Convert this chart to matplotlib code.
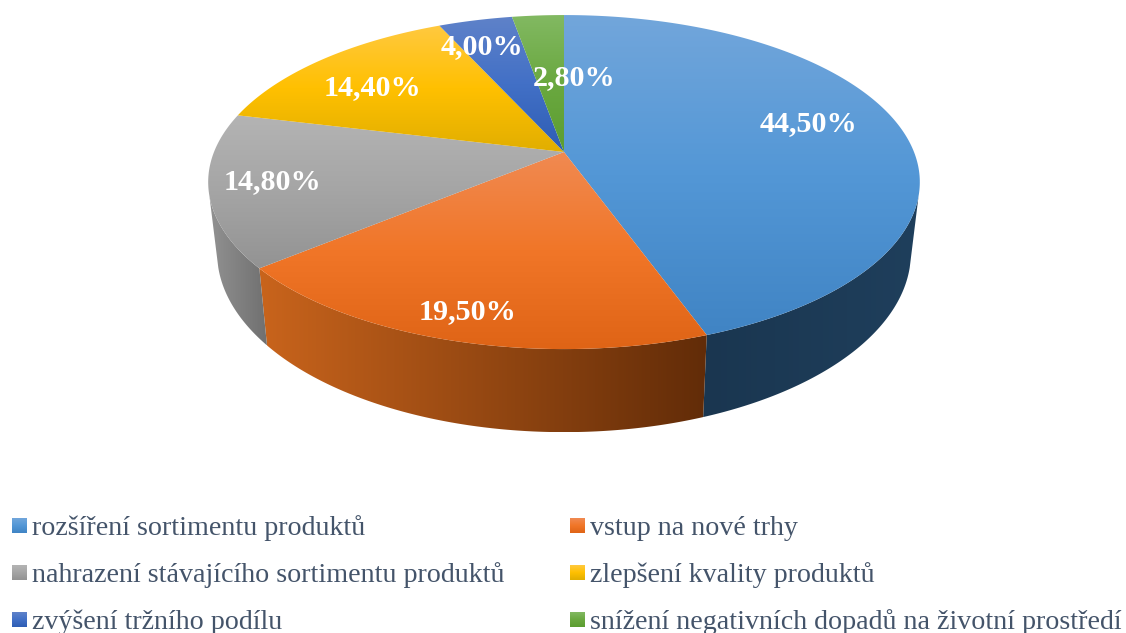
import numpy as np
import matplotlib
matplotlib.use('Agg')
import matplotlib.pyplot as plt
from matplotlib.colors import LinearSegmentedColormap
from matplotlib.patches import Polygon

# data
categories = [
    'rozšíření sortimentu produktů',
    'vstup na nové trhy',
    'nahrazení stávajícího sortimentu produktů',
    'zlepšení kvality produktů',
    'zvýšení tržního podílu',
    'snížení negativních dopadů na životní prostředí',
]
values = [44.5, 19.5, 14.8, 14.4, 4.0, 2.8]
value_labels = ['44,50%', '19,50%', '14,80%', '14,40%', '4,00%', '2,80%']

# gradient colours, top face (top -> bottom) and side (left -> right)
top_colors = [
    ('#72a6db', '#5397d6', '#4084c4'),
    ('#f08a52', '#f17628', '#df6416'),
    ('#b4b4b4', '#a5a5a5', '#939393'),
    ('#ffc940', '#ffc000', '#e1ae00'),
    ('#5f82c9', '#4270c6', '#2e5db4'),
    ('#82b962', '#6aa840', '#5c9d30'),
]
side_colors = [
    ('#1a3650', '#1f3f5c'),
    ('#c9641c', '#622c08'),
    ('#929292', '#707070'),
    ('#929292', '#707070'),
    ('#2a4a80', '#2a4a80'),
    ('#4a7a2a', '#4a7a2a'),
]

# label centres in pixels
label_pos = [(808, 124), (468, 312), (272, 182), (372, 88), (482, 47), (574, 78)]

W, H = 1126, 633
cx, cy = 564, 152
# where the rim starts to show, clockwise from the top of the pie
right_edge = np.radians(105)
left_edge = np.radians(255)


def project(angle):
    # angle clockwise from the top of the pie, with perspective
    u = np.sin(angle)
    v = np.cos(angle)
    w = 1 + 0.18 * v
    return cx + 350 * u / w, cy - 161.6 * v / w


def project_bottom(angle):
    x, y = project(angle)
    return cx + 0.975 * (x - cx), y + 77 + 0.075 * (y - 268)


def gradient_fill(ax, xy, colors, horizontal=False, zorder=1):
    cmap = LinearSegmentedColormap.from_list('g', list(colors))
    x0, y0 = xy[:, 0].min(), xy[:, 1].min()
    x1, y1 = xy[:, 0].max(), xy[:, 1].max()
    grad = np.linspace(0, 1, 256)
    grad = grad.reshape(1, -1) if horizontal else grad.reshape(-1, 1)
    im = ax.imshow(grad, cmap=cmap, extent=(x0, x1, y1, y0), aspect='auto',
                   interpolation='bilinear', zorder=zorder)
    poly = Polygon(xy, closed=True, transform=ax.transData)
    im.set_clip_path(poly)


plt.rcParams['font.family'] = ['Liberation Serif']

fig = plt.figure(figsize=(W / 100, H / 100), dpi=100)
ax = fig.add_axes([0, 0, 1, 1])

edges = np.cumsum([0] + values) / sum(values) * 2 * np.pi

# sides first, only the front part of the rim is visible
for i in range(len(values)):
    start = max(edges[i], right_edge)
    end = min(edges[i + 1], left_edge)
    if end <= start:
        continue
    a = np.linspace(start, end, 200)
    tx, ty = project(a)
    bx, by = project_bottom(a)
    xy = np.column_stack([np.r_[tx, bx[::-1]], np.r_[ty, by[::-1]]])
    gradient_fill(ax, xy, side_colors[i], horizontal=True, zorder=1)

for i in range(len(values)):
    a = np.linspace(edges[i], edges[i + 1], 200)
    tx, ty = project(a)
    xy = np.column_stack([np.r_[cx, tx], np.r_[cy, ty]])
    gradient_fill(ax, xy, top_colors[i], zorder=2)

for label, (x, y) in zip(value_labels, label_pos):
    ax.text(x, y, label, color='white', fontsize=21.7, fontweight='bold',
            ha='center', va='center', zorder=3)

# legend
legend_x = [12, 570]
legend_y = [518, 565, 612]
for i, name in enumerate(categories):
    lx = legend_x[i % 2]
    ly = legend_y[i // 2]
    box = np.array([[lx, ly], [lx + 15, ly], [lx + 15, ly + 15], [lx, ly + 15]])
    gradient_fill(ax, box, top_colors[i], zorder=2)
    ax.text(lx + 19.5, ly + 17, name, color='#44546a', fontsize=20.2,
            ha='left', va='baseline', zorder=3)

ax.set_xlim(0, W)
ax.set_ylim(H, 0)
ax.axis('off')

fig.savefig('out.png', dpi=100)
